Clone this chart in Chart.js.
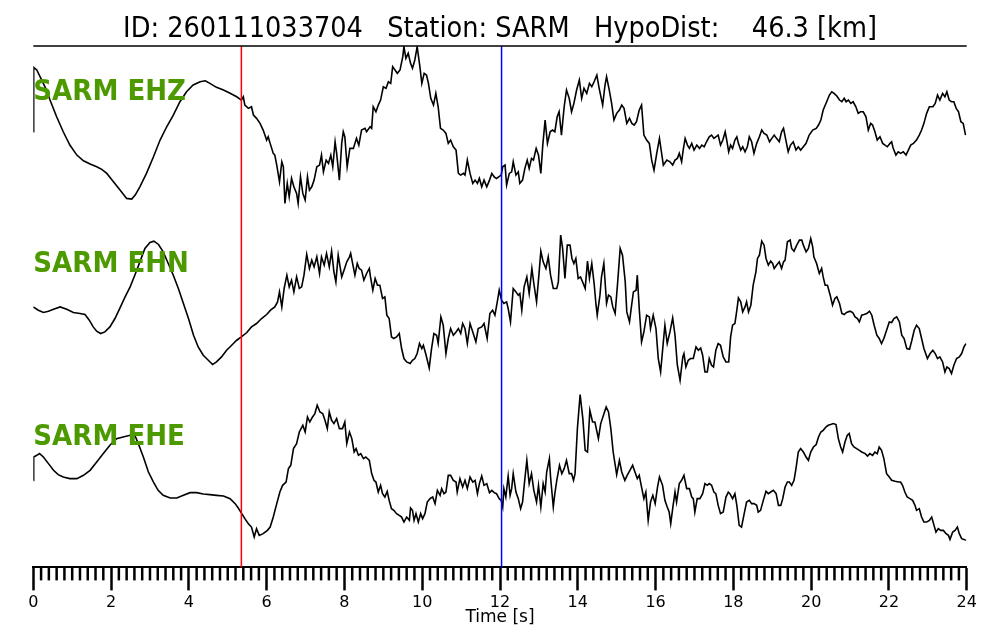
<!DOCTYPE html>
<html>
<head>
<meta charset="utf-8">
<script src="https://cdn.jsdelivr.net/npm/chart.js@4.4.1/dist/chart.umd.min.js"></script>
<style>
  html, body { margin: 0; padding: 0; background: #fff; }
  #wrap { width: 1000px; height: 640px; }
</style>
</head>
<body>
<div id="wrap"><canvas id="seis" width="1000" height="640"></canvas></div>
<script>
'use strict';

// picks (s)
let pickP = 5.35;
let pickS = 12.04;

// EHZ trace (time s, relative amplitude)
let ehzTime = [0.00,0.01,0.09,0.34,0.43,0.60,0.77,0.94,1.12,1.29,1.46,1.63,1.76,1.89,2.06,2.23,2.40,2.53,2.62,2.74,2.91,3.09,3.26,3.43,3.60,3.77,3.94,4.11,4.29,4.42,4.54,4.71,4.89,5.06,5.23,5.35,5.40,5.44,5.53,5.61,5.66,5.74,5.83,5.91,6.00,6.04,6.09,6.17,6.21,6.26,6.33,6.39,6.43,6.47,6.53,6.58,6.64,6.70,6.77,6.81,6.87,6.93,6.99,7.05,7.10,7.16,7.22,7.29,7.36,7.41,7.46,7.53,7.59,7.65,7.70,7.76,7.80,7.87,7.93,7.97,8.01,8.07,8.14,8.23,8.31,8.37,8.44,8.53,8.57,8.66,8.70,8.74,8.81,8.87,8.93,9.00,9.07,9.13,9.19,9.24,9.30,9.36,9.43,9.50,9.53,9.58,9.64,9.70,9.75,9.81,9.87,9.94,9.99,10.05,10.11,10.16,10.22,10.29,10.35,10.41,10.47,10.54,10.61,10.67,10.73,10.80,10.87,10.93,10.99,11.06,11.10,11.16,11.23,11.30,11.36,11.42,11.47,11.53,11.59,11.66,11.73,11.79,11.85,11.91,12.03,12.07,12.13,12.17,12.24,12.30,12.34,12.41,12.47,12.51,12.58,12.64,12.70,12.75,12.81,12.86,12.93,12.99,13.05,13.10,13.16,13.22,13.29,13.35,13.41,13.47,13.52,13.58,13.65,13.71,13.78,13.84,13.90,13.97,14.04,14.10,14.16,14.23,14.30,14.36,14.42,14.49,14.55,14.64,14.70,14.74,14.81,14.87,14.93,15.00,15.07,15.13,15.19,15.26,15.33,15.39,15.45,15.51,15.58,15.64,15.70,15.77,15.84,15.90,15.96,16.03,16.10,16.20,16.29,16.37,16.44,16.50,16.56,16.61,16.67,16.71,16.76,16.82,16.87,16.93,16.99,17.06,17.13,17.19,17.25,17.31,17.38,17.44,17.50,17.55,17.61,17.67,17.73,17.79,17.83,17.88,17.93,17.98,18.04,18.09,18.13,18.19,18.24,18.30,18.36,18.41,18.47,18.53,18.60,18.67,18.73,18.79,18.86,18.93,18.99,19.05,19.11,19.18,19.24,19.29,19.35,19.41,19.47,19.54,19.61,19.67,19.73,19.80,19.87,19.95,20.04,20.13,20.19,20.25,20.31,20.40,20.47,20.53,20.59,20.66,20.73,20.79,20.85,20.90,20.96,21.02,21.08,21.15,21.21,21.27,21.34,21.41,21.47,21.53,21.58,21.64,21.70,21.77,21.84,21.90,21.96,22.03,22.07,22.11,22.18,22.24,22.30,22.37,22.44,22.50,22.56,22.63,22.71,22.78,22.84,22.90,22.97,23.04,23.13,23.19,23.25,23.31,23.38,23.44,23.49,23.55,23.61,23.67,23.73,23.79,23.85,23.91,23.97];
let ehzAmp = [-6.7,57.7,55,35,25,8.3,-6.7,-20,-30,-35.7,-39,-41.7,-44.3,-48.3,-56.7,-65,-73.3,-74,-70,-61.7,-48.3,-31.7,-15,-1.7,10,23.3,33.3,40,43.3,44.3,41.7,37.7,35,31.7,28.3,25,28.3,20,16.7,18.3,10,6.7,1.7,-5,-15,-11.7,-18.3,-28.3,-30,-40,-56.7,-36.7,-41.7,-78.3,-58.3,-71.7,-53.3,-61.7,-68.3,-78.3,-51.7,-68.3,-75,-51.7,-65,-61.7,-55,-41.7,-40,-30,-46.7,-35,-38.3,-30,-41.7,-16.7,-28.3,-55,-18.3,-6.7,-11.7,-41.7,-23.3,-23.3,-13.3,-20,-5,-3.3,-6.7,-1.7,-3.3,18.3,13.3,20,25,38.3,36.7,43.3,41.7,58.3,55,51.7,55,68.3,78.3,66.7,71.7,61.7,56.7,65,78.3,58.3,41.7,51.7,50,41.7,26.7,20,31.7,18.3,-3.3,-5,-8.3,-18.3,-15,-21.7,-25,-48.3,-50,-48.3,-50,-35,-48.3,-58.3,-55,-58.3,-53.3,-61.7,-55,-61.7,-55,-48.3,-51.7,-53.3,-50,-41.7,-40,-60,-48.3,-46.7,-36.7,-50,-46.7,-58.3,-55,-43.3,-35,-43.3,-33.3,-35,-23.3,-30,-48.3,-20,5,-18.3,-6.7,-5,-6.7,8.3,13.3,-10,18.3,35,26.7,13.3,21.7,35,45,26.7,36.7,31.7,41.7,38.3,43.3,50,36.7,20,40,48.3,35,21.7,5,11.7,15,20,16.7,1.7,6.7,1.7,0,3.3,15,20,-10,-15,-18.3,-35,-45,-28.3,-13.3,-40,-35,-36.7,-40,-35,-33.3,-28.3,-36.7,-25,-13.3,-20,-23.3,-18.3,-25,-20,-23.3,-20,-21.7,-16.7,-11.7,-10,-13.3,-11.7,-10,-20,-15,-6.7,-15,-26.7,-20,-23.3,-15,-11.7,-18.3,-25,-21.7,-26.7,-21.7,-11.7,-16.7,-28.3,-18.3,-11.7,-5,-8.3,-10,-16.7,-13.3,-10,-13.3,-16.7,-6.7,-3.3,-15,-26.7,-20,-16.7,-25,-21.7,-25,-21.7,-18.3,-10,-5,-3.3,0,5,15,23.3,30,33.3,31.7,29,25,23.3,26.7,23.3,25,21.7,23.3,18.3,11.7,13.3,13.3,8.3,-5,1.7,0,-6.7,-15,-11.7,-18.3,-20,-21.7,-18.3,-16.7,-23.3,-30,-26.7,-28.3,-26.7,-30,-25,-20,-18.3,-15,-10,-5,1.7,11.7,18.3,18.3,21.7,30,25,31.7,28.3,33.3,25,23.3,23.3,16.7,13.3,3.3,1.7,-10];

// EHN trace
let ehnTime = [0.00,0.13,0.26,0.39,0.52,0.69,0.86,1.03,1.20,1.33,1.44,1.54,1.63,1.73,1.84,1.97,2.10,2.23,2.36,2.49,2.61,2.74,2.87,3.00,3.10,3.22,3.34,3.47,3.60,3.73,3.86,3.99,4.12,4.24,4.37,4.50,4.61,4.71,4.84,4.97,5.10,5.23,5.35,5.49,5.61,5.74,5.87,6.00,6.10,6.21,6.28,6.33,6.39,6.45,6.52,6.58,6.64,6.70,6.77,6.84,6.90,6.96,7.03,7.10,7.16,7.22,7.29,7.36,7.41,7.48,7.54,7.61,7.67,7.73,7.78,7.84,7.93,7.99,8.06,8.13,8.16,8.21,8.27,8.33,8.38,8.44,8.50,8.57,8.64,8.67,8.73,8.79,8.85,8.91,8.98,9.04,9.09,9.15,9.21,9.27,9.34,9.41,9.47,9.53,9.60,9.69,9.75,9.81,9.87,9.93,9.99,10.03,10.10,10.18,10.24,10.30,10.37,10.41,10.48,10.54,10.61,10.67,10.73,10.80,10.87,10.93,10.99,11.04,11.10,11.16,11.23,11.30,11.38,11.44,11.53,11.59,11.67,11.74,11.81,11.87,11.93,11.98,12.04,12.10,12.17,12.21,12.27,12.34,12.41,12.47,12.51,12.56,12.62,12.69,12.75,12.82,12.87,12.94,13.00,13.05,13.11,13.18,13.24,13.30,13.37,13.46,13.50,13.56,13.61,13.67,13.73,13.80,13.85,13.90,13.95,14.01,14.07,14.14,14.19,14.25,14.30,14.36,14.42,14.47,14.50,14.57,14.61,14.67,14.74,14.79,14.85,14.90,14.96,15.02,15.09,15.15,15.22,15.26,15.33,15.39,15.43,15.50,15.53,15.58,15.64,15.70,15.77,15.84,15.87,15.94,16.01,16.07,16.13,16.20,16.24,16.30,16.37,16.44,16.50,16.56,16.63,16.70,16.73,16.78,16.84,16.90,16.97,17.04,17.10,17.16,17.21,17.27,17.33,17.38,17.44,17.49,17.55,17.61,17.67,17.74,17.81,17.88,17.93,17.98,18.04,18.09,18.13,18.19,18.24,18.30,18.34,18.39,18.45,18.51,18.58,18.62,18.67,18.73,18.79,18.84,18.90,18.96,19.01,19.05,19.11,19.18,19.24,19.29,19.33,19.39,19.46,19.50,19.56,19.63,19.70,19.76,19.80,19.87,19.93,19.99,20.04,20.07,20.14,20.21,20.27,20.31,20.36,20.42,20.49,20.55,20.61,20.66,20.73,20.79,20.85,20.91,21.00,21.07,21.13,21.19,21.24,21.30,21.36,21.43,21.50,21.56,21.62,21.69,21.75,21.81,21.87,21.94,22.01,22.07,22.13,22.20,22.27,22.33,22.39,22.46,22.53,22.59,22.65,22.71,22.78,22.84,22.90,22.99,23.06,23.13,23.19,23.25,23.31,23.38,23.44,23.49,23.55,23.61,23.67,23.74,23.81,23.87,23.93,23.98];
let ehnAmp = [-1.7,-5,-7.3,-6,-4,-1.7,-4,-7.3,-8.3,-9.3,-15,-21.7,-26,-28.3,-26.7,-21.7,-13.3,-2.7,8.3,18.3,30,43.3,56.7,62.7,64,60.7,53.3,41.7,30,16.7,1.7,-13.3,-30,-41.7,-50,-55,-59.3,-56.7,-51.7,-45,-40,-35,-31.7,-27.3,-21.7,-18.3,-13.3,-9.3,-5,-1.7,3.3,13.3,-1.7,16.7,30,18.3,25,13.3,28.3,16.7,18.3,30,50.7,36.7,45,38.3,48.3,31.7,48.3,40,51.7,38.3,54,33.3,23.3,50,28.3,35,43.3,48.3,51.7,41.7,30,41.7,36.7,35,25,31.7,36.7,28.3,15,26.7,20,20,6.7,8.3,-10,-13.3,-31.7,-33.3,-31.7,-28.3,-43.3,-53.3,-56.7,-58.3,-55,-53.3,-48.3,-38.3,-43.3,-40,-50,-62.7,-43.3,-28.3,-30,-38.3,-11.7,-20,-48.3,-33.3,-23.3,-30,-26.7,-23.3,-28.3,-18.3,-23.3,-38.3,-18.3,-26.7,-36.7,-23.3,-21.7,-18.3,-33.3,-8.3,-5,-10,3.3,15,5,1.7,3.3,-3.3,-16.7,16.7,13.3,10,11.7,-5,18.3,28.3,11.7,36.7,21.7,3.3,30,54,43.3,36.7,48.3,30,16.7,16.7,23.3,70,56.7,26.7,60,60,46.7,41.7,46.7,26.7,28.3,21.7,16.7,44,26.7,41.7,21.7,0,-10,10,28.3,41.7,1.7,10,8.3,-1.7,-8.3,20,56.7,50,23.3,-6.7,-16.7,1.7,13.3,15,30,-3.3,-36.7,-26.7,-10,-11.7,-23.3,-10,-23.3,-53.3,-66.7,-36.7,-20,-38.3,-26.7,-12.7,-30,-60,-75,-51.7,-48.3,-61.7,-55,-53.3,-53.3,-41.7,-45,-42.7,-50,-66.7,-66.7,-53.3,-60,-61.7,-45,-38.3,-40,-51.7,-56.7,-56.7,-31.7,-20,-18.3,-5,7.3,3.3,-6.7,-1.7,3.3,-6.7,0,20,33.3,46.7,50,64,60,46.7,40,44,41.7,36.7,40,43.3,36.7,43.3,45,63.3,65,56.7,54,60,65,65,60,53.3,56.7,66.7,58.3,48.3,41.7,31.7,36.7,28.3,20,20,10,0,6.7,8.3,1.7,-8.3,-9.3,-7.3,-6,-7.3,-11.7,-13.3,-16.7,-10,-9.3,-8.3,-6,-10,-20,-30,-33.3,-38.3,-33.3,-25,-16.7,-17.3,-13.3,-11.7,-16.7,-30,-33.3,-43.3,-44,-35,-25,-20,-23.3,-33.3,-43.3,-53.3,-48.3,-45,-48.3,-53.3,-51.7,-56.7,-66.7,-61.7,-63.3,-68.3,-60,-53.3,-51.7,-48.3,-41.7,-38.3];

// EHE trace
let eheTime = [0.00,0.01,0.09,0.16,0.26,0.39,0.52,0.64,0.77,0.94,1.12,1.29,1.46,1.63,1.80,1.97,2.14,2.31,2.49,2.61,2.70,2.83,2.96,3.09,3.21,3.34,3.52,3.69,3.86,4.03,4.20,4.37,4.54,4.71,4.89,5.06,5.19,5.27,5.36,5.44,5.53,5.61,5.68,5.74,5.81,5.91,6.02,6.09,6.17,6.26,6.34,6.41,6.50,6.56,6.62,6.69,6.77,6.84,6.93,6.99,7.05,7.11,7.18,7.24,7.30,7.37,7.44,7.50,7.56,7.61,7.67,7.73,7.80,7.87,7.95,8.01,8.06,8.13,8.19,8.25,8.30,8.36,8.42,8.49,8.55,8.64,8.70,8.76,8.81,8.87,8.93,8.98,9.04,9.10,9.15,9.21,9.27,9.34,9.41,9.47,9.53,9.60,9.67,9.70,9.75,9.79,9.84,9.90,9.96,10.01,10.07,10.13,10.20,10.27,10.33,10.39,10.46,10.50,10.56,10.61,10.67,10.73,10.80,10.87,10.90,10.97,11.04,11.10,11.16,11.23,11.30,11.36,11.42,11.47,11.53,11.59,11.66,11.73,11.79,11.85,11.91,11.98,12.03,12.07,12.10,12.15,12.21,12.26,12.30,12.34,12.41,12.47,12.53,12.58,12.64,12.69,12.75,12.81,12.87,12.94,12.99,13.05,13.11,13.16,13.20,13.27,13.30,13.37,13.41,13.46,13.53,13.59,13.65,13.71,13.78,13.84,13.89,13.93,13.99,14.06,14.13,14.19,14.25,14.31,14.38,14.44,14.53,14.59,14.66,14.73,14.79,14.85,14.91,15.00,15.07,15.13,15.21,15.27,15.34,15.41,15.47,15.53,15.58,15.64,15.70,15.75,15.81,15.87,15.93,15.99,16.05,16.10,16.18,16.24,16.30,16.35,16.39,16.44,16.50,16.54,16.61,16.67,16.73,16.80,16.87,16.93,16.97,17.01,17.07,17.14,17.21,17.27,17.33,17.38,17.44,17.50,17.55,17.61,17.67,17.74,17.81,17.87,17.91,17.98,18.04,18.09,18.15,18.21,18.27,18.34,18.41,18.47,18.53,18.60,18.64,18.70,18.77,18.84,18.90,18.96,19.03,19.10,19.16,19.22,19.27,19.33,19.39,19.44,19.50,19.56,19.61,19.67,19.73,19.80,19.87,19.93,19.99,20.06,20.13,20.19,20.25,20.31,20.38,20.44,20.50,20.57,20.64,20.70,20.76,20.81,20.87,20.93,20.98,21.04,21.10,21.17,21.24,21.30,21.39,21.45,21.51,21.58,21.64,21.70,21.75,21.81,21.87,21.94,22.01,22.07,22.16,22.24,22.30,22.35,22.41,22.47,22.54,22.61,22.67,22.71,22.78,22.84,22.90,22.97,23.04,23.10,23.16,23.21,23.27,23.33,23.40,23.47,23.53,23.57,23.64,23.70,23.76,23.81,23.87,23.93,23.98];
let eheAmp = [-15,8.3,10,11.7,8.3,1.7,-5,-9.3,-11.7,-13.3,-13.3,-10,-5,3.3,11.7,20,26.7,28.3,30,30,21.7,8.3,-6.7,-16.7,-25,-30,-32.7,-32.7,-30,-27.3,-27.3,-28.7,-29.3,-30,-30.7,-33.3,-38.3,-42.7,-48.3,-53.3,-58.3,-61.7,-71.7,-63.3,-70,-68.3,-65,-61.7,-51.7,-38.3,-26.7,-20,-16.7,-3.3,0,16.7,21.7,33.3,40,33.3,48.3,43.3,48.3,51.7,60,53.3,51.7,45,36.7,53.3,45,41.7,46.7,36.7,36.7,43.3,21.7,33.3,26.7,13.3,16.7,10,11.7,6.7,8.3,5,-8.3,-15,-16.7,-26.7,-20,-28.3,-31.7,-26,-35,-43.3,-45,-48.3,-50,-51.7,-56.7,-51.7,-55,-42.7,-45,-55,-48.3,-56.7,-48.3,-53.3,-48.3,-36.7,-33.3,-31.7,-38.3,-25,-30,-23.3,-28.3,-26.7,-10,-10,-15,-16.7,-26.7,-13.3,-21.7,-15,-23.3,-11.7,-16.7,-15,-28.3,-18.3,-10.7,-20,-18.3,-27.3,-25,-27.3,-28.3,-33.3,-35,-41.7,-23.3,-31.7,-10.7,-30,-23.3,-8.3,-26.7,-33.3,-43.3,-36.7,-13.3,5,-18.3,-8.3,-25,-36.7,-20,-41.7,-18.3,-26.7,-6.7,6.7,-11.7,-41.7,-28.3,-15,0,-8.3,-3.3,5,-8.3,-8.3,-15,-8.3,36.7,70.7,46.7,15,13.3,55,43.3,43.3,26.7,41.7,50,58.3,53.3,36.7,13.3,-9.3,5,-6.7,-15,-10,-5,0,-6.7,-13.3,-10,-21.7,-33.3,-26.7,-55,-36.7,-30,-38.3,-21.7,-11.7,-20,-35,-41.7,-46.7,-58.3,-43.3,-26.7,-36.7,-18.3,-15,-10,-23.3,-23.3,-31.7,-33.3,-46.7,-33.3,-33.3,-28.3,-18.3,-20,-18.3,-20,-26.7,-28.3,-40,-48.3,-46.7,-31.7,-26.7,-28.3,-33.3,-28.3,-40,-60,-61.7,-50,-36.7,-35,-38.3,-38.3,-40,-46.7,-45,-35,-26,-28.3,-26.7,-25,-28.3,-40,-40,-33.3,-21.7,-16.7,-16.7,-20,-15,-3.3,13.3,16.7,13.3,8.3,5,13.3,18.3,20.7,28.3,33.3,35,38.3,40,40.7,41.7,40.7,26.7,18.3,13.3,23.3,30,31.7,21.7,18.3,16.7,15,13.3,11.7,9.3,11.7,10,13.3,11.7,18.3,15,6.7,-8.3,-11.7,-15,-16,-16.7,-16.7,-20,-26.7,-31.7,-33.3,-35,-40,-45,-43.3,-51.7,-56.7,-56.7,-55,-51.7,-60,-66.7,-63.3,-65,-65,-68.3,-70,-74,-66.7,-65,-61.7,-68.3,-73.3,-74,-75];

let channelNames = ['SARM EHZ', 'SARM EHN', 'SARM EHE'];
let xTickLabels = [0, 2, 4, 6, 8, 10, 12, 14, 16, 18, 20, 22, 24];

// vertical placement of each trace on the shared y axis
let traceOffset = [442, 262, 102];
let labelLift = [33, 41, 28];

function toPoints(times, amps, offset) {
    let pts = [];
    for (let i = 0; i < times.length; i++) {
        pts.push({ x: times[i], y: amps[i] + offset });
    }
    return pts;
}

function pickLine(t, color) {
    return {
        data: [{ x: t, y: 0 }, { x: t, y: 521 }],
        borderColor: color,
        borderWidth: 1.5,
        pointRadius: 0,
        order: 0
    };
}

let traceSets = [
    toPoints(ehzTime, ehzAmp, traceOffset[0]),
    toPoints(ehnTime, ehnAmp, traceOffset[1]),
    toPoints(eheTime, eheAmp, traceOffset[2])
];

let datasets = traceSets.map(function (pts) {
    return {
        data: pts,
        borderColor: '#000',
        borderWidth: 1.6,
        pointRadius: 0,
        tension: 0,
        order: 1
    };
});
datasets.push(pickLine(pickP, '#ff0000'));
datasets.push(pickLine(pickS, '#0000ff'));

// top spine, minor ticks and channel names
let extras = {
    id: 'extras',
    afterDatasetsDraw(chart) {
        let ctx = chart.ctx;
        let area = chart.chartArea;
        let xs = chart.scales.x;
        let ys = chart.scales.y;
        ctx.save();
        ctx.strokeStyle = '#000';
        ctx.lineWidth = 1.5;
        ctx.beginPath();
        ctx.moveTo(area.left, area.top);
        ctx.lineTo(area.right, area.top);
        ctx.stroke();

        ctx.lineWidth = 2.5;
        for (let i = 0; i <= 120; i++) {
            if (i % 10 === 0) continue;
            let px = xs.getPixelForValue(i / 5);
            ctx.beginPath();
            ctx.moveTo(px, xs.top);
            ctx.lineTo(px, xs.top + 13);
            ctx.stroke();
        }

        ctx.fillStyle = '#4c9a00';
        ctx.font = "bold 29px 'DejaVu Sans Condensed', 'DejaVu Sans'";
        ctx.textBaseline = 'middle';
        ctx.textAlign = 'left';
        for (let i = 0; i < channelNames.length; i++) {
            let py = ys.getPixelForValue(traceOffset[i] + labelLift[i]);
            ctx.fillText(channelNames[i], area.left, py);
        }
        ctx.restore();
    }
};

let chartOfTraces = new Chart(document.getElementById('seis').getContext('2d'), {
    type: 'line',
    data: { datasets: datasets },
    options: {
        responsive: false,
        devicePixelRatio: 1,
        animation: false,
        layout: { padding: { left: 33.3, right: 33.3, top: 0, bottom: 0 } },
        plugins: {
            legend: { display: false },
            tooltip: { enabled: false },
            title: {
                display: true,
                text: 'ID: 260111033704   Station: SARM   HypoDist:    46.3 [km]',
                color: '#000',
                font: { family: "'DejaVu Sans Condensed', 'DejaVu Sans'", size: 28.5, weight: 'normal' },
                padding: { top: 12.5, bottom: -0.7 }
            }
        },
        scales: {
            x: {
                type: 'linear',
                min: 0,
                max: 24,
                afterBuildTicks: function (scale) {
                    scale.ticks = xTickLabels.map(function (v) { return { value: v }; });
                },
                ticks: {
                    autoSkip: false,
                    maxRotation: 0,
                    color: '#000',
                    padding: 3,
                    font: { family: "'DejaVu Sans'", size: 16 },
                    callback: function (v) { return String(v); }
                },
                grid: {
                    drawOnChartArea: false,
                    tickLength: 23,
                    tickWidth: 2.5,
                    tickColor: '#000'
                },
                border: { display: true, color: '#000', width: 2 },
                title: {
                    display: true,
                    text: 'Time [s]',
                    color: '#000',
                    font: { family: "'DejaVu Sans'", size: 17 },
                    padding: { top: -8, bottom: 12 }
                }
            },
            y: {
                display: false,
                min: 0,
                max: 521
            }
        }
    },
    plugins: [extras]
});
</script>
</body>
</html>
